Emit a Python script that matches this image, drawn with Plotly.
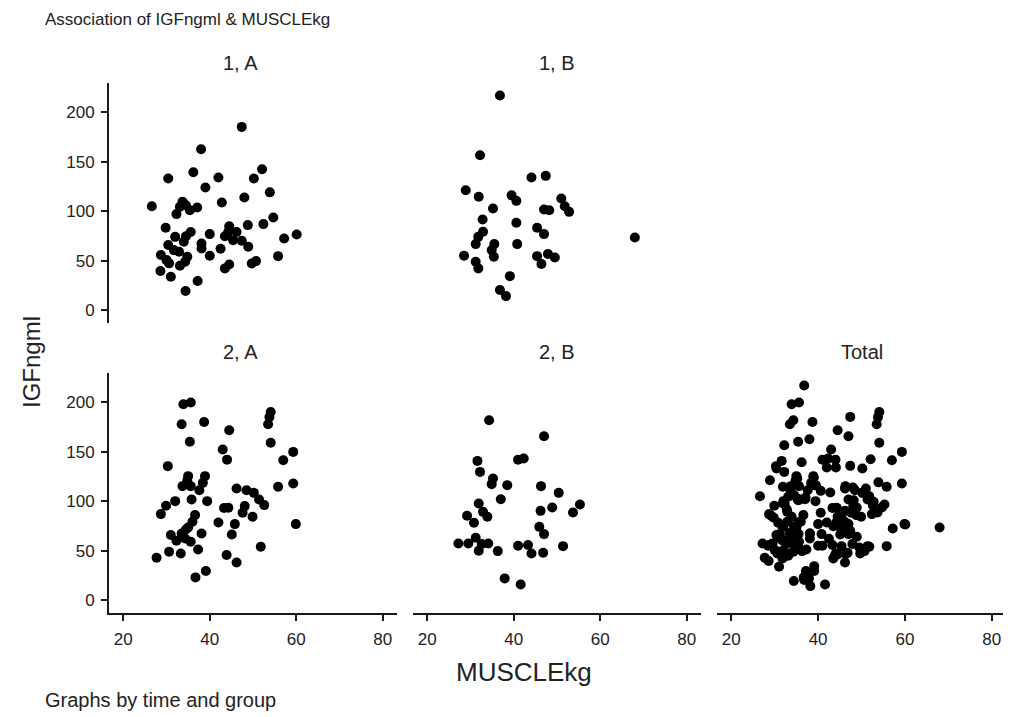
import plotly.graph_objects as go

# ---- data ----
x_1A = [47.4, 38.0, 52.1, 30.4, 36.2, 42.0, 50.2, 39.0, 53.9, 48.0, 42.8, 26.6, 33.7, 33.1, 35.4, 37.1,
        32.3, 34.5, 54.7, 52.4, 48.8, 29.8, 44.5, 44.3, 46.2, 43.5, 45.4, 47.4, 48.9, 40.0, 35.6, 34.5,
        34.0, 32.0, 38.1, 38.1, 42.5, 40.0, 30.4, 31.7, 32.9, 28.7, 30.0, 30.6, 34.8, 34.3, 33.1, 55.8,
        57.2, 60.1, 49.7, 50.7, 43.5, 44.5, 28.6, 31.0, 37.2, 34.4]
y_1A = [185.2, 162.6, 142.4, 133.0, 139.4, 134.0, 133.0, 124.0, 119.0, 113.8, 108.7, 105.0, 109.4, 104.4,
        101.0, 103.7, 97.0, 106.0, 93.6, 86.9, 85.9, 83.2, 84.8, 79.1, 79.0, 74.7, 70.7, 70.0, 64.0, 76.8,
        79.0, 74.7, 69.0, 74.0, 67.3, 62.3, 62.0, 54.9, 65.7, 60.6, 58.9, 55.6, 50.5, 47.2, 53.9, 48.8,
        44.8, 54.5, 72.4, 76.4, 47.1, 49.5, 42.1, 46.1, 39.4, 33.7, 29.3, 19.2]

x_1B = [36.8, 32.2, 44.1, 47.4, 28.9, 31.9, 39.5, 40.6, 51.0, 51.8, 52.8, 35.2, 47.0, 48.2, 32.8, 40.6,
        45.4, 47.0, 32.9, 31.8, 31.2, 35.5, 34.9, 35.4, 40.8, 28.5, 31.2, 31.8, 45.4, 47.9, 49.5, 46.4,
        39.1, 36.8, 38.2, 68.0]
y_1B = [217.0, 156.6, 134.0, 135.7, 121.2, 114.5, 116.0, 110.4, 112.8, 105.0, 99.3, 102.7, 101.7, 101.0,
        91.6, 88.2, 83.2, 76.8, 79.1, 74.0, 66.7, 66.7, 60.6, 53.9, 66.7, 54.9, 48.8, 42.1, 54.5, 56.6,
        53.2, 46.5, 34.3, 20.2, 14.1, 73.4]

x_2A = [33.9, 35.6, 33.5, 38.7, 44.5, 54.1, 53.8, 53.5, 35.4, 54.1, 43.0, 44.0, 59.3, 57.0, 30.3, 35.0,
        38.9, 38.4, 33.7, 35.6, 37.6, 34.8, 46.2, 48.5, 50.2, 51.4, 52.6, 55.8, 59.3, 32.0, 29.9, 28.7,
        35.8, 39.4, 44.3, 43.3, 48.1, 47.6, 49.9, 42.0, 45.8, 45.1, 59.9, 36.6, 36.0, 35.0, 38.1, 33.5,
        31.0, 32.3, 34.3, 35.6, 34.5, 51.8, 37.3, 27.7, 30.6, 33.3, 43.9, 46.2, 39.1, 36.7]
y_2A = [198.0, 199.7, 177.8, 180.0, 171.7, 190.2, 185.0, 177.8, 160.0, 159.0, 152.2, 142.0, 149.8, 141.4,
        135.4, 125.3, 125.3, 118.5, 115.2, 115.2, 111.1, 120.5, 112.8, 111.1, 108.4, 101.7, 96.0, 114.5,
        117.8, 100.0, 95.3, 86.9, 101.7, 100.0, 93.3, 93.0, 95.0, 88.2, 84.2, 78.5, 76.8, 66.3, 76.8,
        85.9, 79.1, 73.4, 67.3, 67.3, 65.7, 59.9, 62.3, 58.9, 71.4, 53.9, 51.2, 42.8, 48.8, 47.1, 45.5,
        38.0, 29.3, 22.9]

x_2B = [34.3, 47.0, 41.0, 42.3, 31.6, 32.2, 35.2, 34.9, 38.5, 46.3, 50.4, 37.0, 55.3, 53.7, 48.9, 46.2,
        31.9, 32.9, 33.9, 29.2, 30.8, 45.9, 47.0, 27.2, 29.5, 31.2, 32.6, 34.1, 31.9, 36.3, 41.0, 43.3,
        44.1, 46.8, 51.4, 37.9, 41.6]
y_2B = [181.8, 165.7, 142.0, 143.1, 140.7, 129.6, 122.9, 117.2, 116.2, 115.2, 108.4, 102.0, 96.6, 88.6,
        93.6, 90.2, 97.6, 89.2, 84.2, 85.2, 78.1, 74.0, 66.7, 57.2, 57.2, 63.0, 56.6, 57.2, 49.8, 49.5,
        54.9, 55.6, 47.1, 47.8, 54.5, 21.9, 15.8]

x_tot = x_1A + x_1B + x_2A + x_2B
y_tot = y_1A + y_1B + y_2A + y_2B

panel_titles = ["1, A", "1, B", "2, A", "2, B", "Total"]
x_ticks = [20, 40, 60, 80]
y_ticks = [0, 50, 100, 150, 200]
title_text = "Association of IGFngml & MUSCLEkg"
x_title = "MUSCLEkg"
y_title = "IGFngml"
note_text = "Graphs by time and group"

# ---- layout geometry (screen pixels; page body has an 8px margin) ----
OFF = 8
W, H = 1011 - OFF, 717 - OFF
FONT = "Liberation Sans, Arial, sans-serif"
TXT = "#222222"


def fx(p):
    return min(1.0, max(0.0, (p - OFF) / W))


def fy(p):
    return min(1.0, max(0.0, 1 - (p - OFF) / H))


cols = [(109, 397), (413, 701), (717, 1006)]
rows = [(83, 323), (373, 613)]
pos = [(0, 0), (1, 0), (0, 1), (1, 1), (2, 1)]
title_cx = [240, 557, 240, 557, 862]
show_y = [True, False, True, False, False]
show_x = [False, False, True, True, True]
data = [(x_1A, y_1A), (x_1B, y_1B), (x_2A, y_2A), (x_2B, y_2B), (x_tot, y_tot)]

fig = go.Figure()
layout = dict(
    width=W, height=H, margin=dict(l=0, r=0, t=0, b=0),
    paper_bgcolor="white", plot_bgcolor="white", showlegend=False,
    font=dict(family=FONT, color=TXT),
)
annotations = []
AXC = "#1a1a1a"
for i, ((xs, ys), (c, r)) in enumerate(zip(data, pos)):
    n = "" if i == 0 else str(i + 1)
    fig.add_trace(go.Scatter(
        x=xs, y=ys, mode="markers", xaxis="x" + n, yaxis="y" + n,
        marker=dict(size=10, color="black", line=dict(width=0)),
        hoverinfo="x+y"))
    x0, x1 = cols[c]
    y0, y1 = rows[r]
    xa = dict(domain=[fx(x0), fx(x1)], range=[16.7, 83.3], anchor="y" + n,
              showgrid=False, zeroline=False, fixedrange=True)
    ya = dict(domain=[fy(y1), fy(y0)], range=[-13.1, 229.6], anchor="x" + n,
              showgrid=False, zeroline=False, fixedrange=True)
    if show_x[i]:
        xa.update(showline=True, linecolor=AXC, linewidth=2, ticks="outside", ticklen=6,
                  tickwidth=1.5, tickcolor=AXC, tickvals=x_ticks,
                  tickfont=dict(size=17, color=TXT), ticklabelstandoff=4)
    else:
        xa.update(visible=False)
    if show_y[i]:
        ya.update(showline=True, linecolor=AXC, linewidth=2, ticks="outside", ticklen=6,
                  tickwidth=1.5, tickcolor=AXC, tickvals=y_ticks,
                  tickfont=dict(size=17, color=TXT), ticklabelstandoff=3)
    else:
        ya.update(visible=False)
    layout["xaxis" + n] = xa
    layout["yaxis" + n] = ya
    ty = 63 if r == 0 else 352
    annotations.append(dict(text=panel_titles[i], x=fx(title_cx[i]), y=fy(ty),
                            xref="paper", yref="paper", showarrow=False,
                            xanchor="center", yanchor="middle",
                            font=dict(size=20, family=FONT, color=TXT)))

annotations += [
    dict(text=title_text, x=fx(43), y=fy(20), xref="paper", yref="paper", showarrow=False,
         xanchor="left", yanchor="middle", font=dict(size=17, family=FONT, color=TXT)),
    dict(text=y_title, x=fx(31), y=fy(362), xref="paper", yref="paper", showarrow=False,
         xanchor="center", yanchor="middle", textangle=-90,
         font=dict(size=24, family=FONT, color=TXT)),
    dict(text=x_title, x=fx(524), y=fy(672), xref="paper", yref="paper", showarrow=False,
         xanchor="center", yanchor="middle", font=dict(size=26, family=FONT, color=TXT)),
    dict(text=note_text, x=fx(43), y=fy(700), xref="paper", yref="paper", showarrow=False,
         xanchor="left", yanchor="middle", font=dict(size=20, family=FONT, color=TXT)),
]
layout["annotations"] = annotations
fig.update_layout(**layout)
fig.write_html("out.html")
